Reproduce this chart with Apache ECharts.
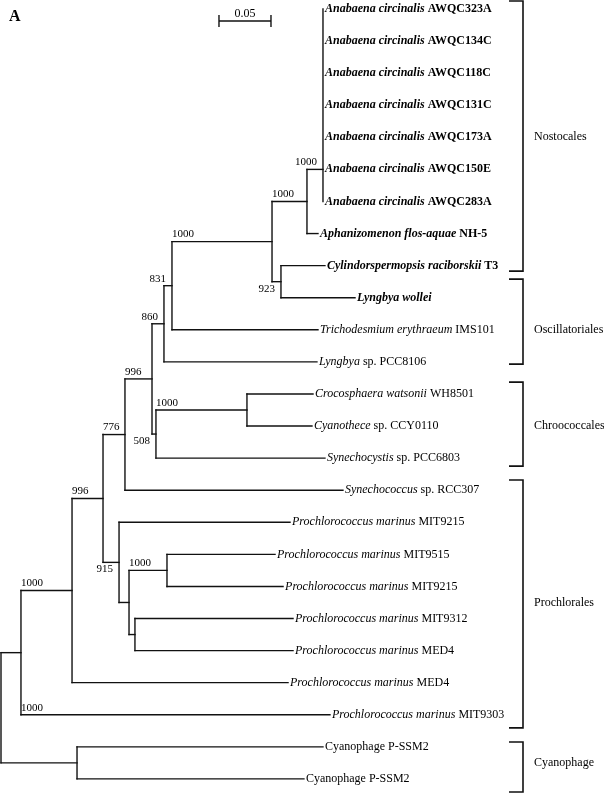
<!DOCTYPE html>
<html><head><meta charset="utf-8">
<script src="https://cdn.jsdelivr.net/npm/echarts@6/dist/echarts.min.js"></script>
<style>html,body{margin:0;padding:0;background:#fff}#main{width:604px;height:795px}</style>
</head><body><div id="main"></div>
<script>
// ---- leaves (top to bottom) ----
const leafTaxon = ['Anabaena circinalis','Anabaena circinalis','Anabaena circinalis','Anabaena circinalis','Anabaena circinalis','Anabaena circinalis','Anabaena circinalis',
  'Aphanizomenon flos-aquae','Cylindorspermopsis raciborskii','Lyngbya wollei','Trichodesmium erythraeum','Lyngbya','Crocosphaera watsonii','Cyanothece','Synechocystis','Synechococcus',
  'Prochlorococcus marinus','Prochlorococcus marinus','Prochlorococcus marinus','Prochlorococcus marinus','Prochlorococcus marinus','Prochlorococcus marinus','Prochlorococcus marinus','',''];
const leafStrain = ['AWQC323A','AWQC134C','AWQC118C','AWQC131C','AWQC173A','AWQC150E','AWQC283A','NH-5','T3','','IMS101','sp. PCC8106','WH8501','sp. CCY0110','sp. PCC6803','sp. RCC307',
  'MIT9215','MIT9515','MIT9215','MIT9312','MED4','MED4','MIT9303','Cyanophage P-SSM2','Cyanophage P-SSM2'];
const leafBold = [1,1,1,1,1,1,1,1,1,1,0,0,0,0,0,0,0,0,0,0,0,0,0,0,0];
const leafDepth = [0.3096,0.3096,0.3096,0.3096,0.3096,0.3096,0.3096,0.3048,0.3115,0.3404,0.3048,0.3038,0.3000,0.2990,0.3115,0.3288,
  0.2779,0.2635,0.2712,0.2808,0.2808,0.2760,0.3163,0.3096,0.2913];

// ---- internal nodes ----
const nodeId = ['a','b','c','d','e','f','g','h','i','j','k','l','m','n','o','p','q','r','root'];
const nodeDepth = [0.3096,0.2942,0.2692,0.2606,0.1644,0.1567,0.2365,0.1490,0.1452,0.1192,0.1596,0.1288,0.1231,0.1135,0.0981,0.0683,0.0192,0.0731,0];
const nodeChildren = [
  ['L0','L1','L2','L3','L4','L5','L6'],['a','L7'],['L8','L9'],['b','c'],['d','L10'],['e','L11'],['L12','L13'],['g','L14'],
  ['f','h'],['i','L15'],['L17','L18'],['L19','L20'],['k','l'],['L16','m'],['j','n'],['o','L21'],['p','L22'],['L23','L24'],['q','r']];
const nodeJoinChild = [5,-1,-1,-1,-1,-1,-1,-1,-1,-1,-1,-1,-1,-1,-1,-1,-1,-1,-1];

// ---- bootstrap supports ----
const supportTarget = ['a','b','d','c','e','f','i','g','h','j','o','n','k','p','L22'];
const supportValue  = ['1000','1000','1000','923','831','860','996','1000','508','776','996','915','1000','1000','1000'];
const supportPlace  = ['aboveLeft','above','above','belowLeft','aboveLeft','aboveLeft','above','above','belowLeft','above','above','belowLeft','above','above','above'];

// ---- clade brackets ----
const groupName = ['Nostocales','Oscillatoriales','Chroococcales','Prochlorales','Cyanophage'];
const groupTop = [-0.25,8.42,11.63,14.68,22.85];
const groupBottom = [8.17,11.07,14.25,22.41,24.41];
const groupFirstLeaf = [0,9,12,15,23];
const groupLastLeaf = [8,11,14,22,24];

// ---- scale bar ----
const scaleBarStart = 0.2096;
const scaleBarLength = 0.05;
const scaleBarLabel = '0.05';
const panelLabel = 'A';

// ---- build tree geometry from the data ----
const nodeIndex = {}; nodeId.forEach((id, i) => nodeIndex[id] = i);
function isLeaf(id) { return /^L\d+$/.test(id); }
function depthOf(id) { return isLeaf(id) ? leafDepth[+id.slice(1)] : nodeDepth[nodeIndex[id]]; }
const yMemo = {};
function yOf(id) {
  if (isLeaf(id)) return +id.slice(1);
  if (yMemo[id] !== undefined) return yMemo[id];
  const k = nodeIndex[id];
  const ch = nodeChildren[k];
  let y;
  if (nodeJoinChild[k] >= 0) y = yOf(ch[nodeJoinChild[k]]);
  else y = (yOf(ch[0]) + yOf(ch[ch.length - 1])) / 2;
  yMemo[id] = y; return y;
}
const parentOf = {};
nodeId.forEach((id, k) => nodeChildren[k].forEach(c => parentOf[c] = id));

const segments = [];
nodeId.forEach((id, k) => {
  const x = nodeDepth[k];
  const ys = nodeChildren[k].map(yOf);
  segments.push([x, Math.min(...ys), x, Math.max(...ys)]);
  nodeChildren[k].forEach(c => {
    const cx = depthOf(c);
    if (cx > x + 1e-6) segments.push([x, yOf(c), cx, yOf(c)]);
  });
});

const leafData = leafDepth.map((d, i) => [d, i, i]);
const supportData = supportTarget.map((t, i) => [depthOf(t), yOf(t), depthOf(parentOf[t]), i]);

const SERIF = '"Liberation Serif","Times New Roman",serif';
const chart = echarts.init(document.getElementById('main'), null, {renderer: 'canvas'});
chart.setOption({
  animation: false,
  backgroundColor: '#fff',
  grid: {left: 0, right: 0, top: 0, bottom: 0},
  xAxis: {type: 'value', min: -0.000962, max: 0.57981, show: false},
  yAxis: {type: 'value', min: -0.2805, max: 24.5016, inverse: true, show: false},
  series: [
    { // tree branches
      type: 'custom', clip: false, silent: true,
      data: segments,
      encode: {x: [0, 2], y: [1, 3]},
      renderItem: (params, api) => {
        const p1 = api.coord([api.value(0), api.value(1)]);
        const p2 = api.coord([api.value(2), api.value(3)]);
        return {type: 'line', shape: {x1: p1[0], y1: p1[1], x2: p2[0], y2: p2[1]},
          style: {stroke: '#111', lineWidth: 1.4, lineCap: 'square'}};
      }
    },
    { // leaf labels
      type: 'custom', clip: false, silent: true,
      data: leafData,
      encode: {x: 0, y: 1},
      renderItem: (params, api) => {
        const i = api.value(2);
        const p = api.coord([api.value(0), api.value(1)]);
        const b = leafBold[i];
        let txt;
        if (leafTaxon[i] && leafStrain[i]) txt = '{i|' + leafTaxon[i] + '}{r| ' + leafStrain[i] + '}';
        else if (leafTaxon[i]) txt = '{i|' + leafTaxon[i] + '}';
        else txt = '{r|' + leafStrain[i] + '}';
        return {type: 'text', x: p[0] + 2, y: p[1],
          style: {text: txt, fill: '#000', align: 'left', verticalAlign: 'middle',
            rich: {
              i: {fontFamily: SERIF, fontSize: 12, fontStyle: 'italic', fontWeight: b ? 'bold' : 'normal', fill: '#000'},
              r: {fontFamily: SERIF, fontSize: 12, fontWeight: b ? 'bold' : 'normal', fill: '#000'}
            }}};
      }
    },
    { // bootstrap values
      type: 'custom', clip: false, silent: true,
      data: supportData,
      encode: {x: 0, y: 1},
      renderItem: (params, api) => {
        const i = api.value(3);
        const node = api.coord([api.value(0), api.value(1)]);
        const par = api.coord([api.value(2), api.value(1)]);
        const place = supportPlace[i];
        let x, y, align;
        if (place === 'above') { x = par[0]; y = node[1] - 7; align = 'left'; }
        else if (place === 'aboveLeft') { x = node[0] - 6; y = node[1] - 7; align = 'right'; }
        else { x = node[0] - 6; y = node[1] + 7; align = 'right'; }
        return {type: 'text', x: x, y: y,
          style: {text: supportValue[i], fill: '#000', align: align, verticalAlign: 'middle',
            font: '11px ' + SERIF}};
      }
    },
    { // clade brackets and names
      type: 'custom', clip: false, silent: true,
      data: groupName.map((n, i) => [0.5, groupTop[i], groupBottom[i], i]),
      encode: {y: [1, 2]},
      renderItem: (params, api) => {
        const i = api.value(3);
        const yt = api.coord([0, api.value(1)])[1];
        const yb = api.coord([0, api.value(2)])[1];
        const ym = api.coord([0, (groupFirstLeaf[i] + groupLastLeaf[i]) / 2])[1];
        const bx = 523, tx = 509;
        return {type: 'group', children: [
          {type: 'polyline', shape: {points: [[tx, yt], [bx, yt], [bx, yb], [tx, yb]]},
            style: {stroke: '#111', lineWidth: 1.6, fill: null}},
          {type: 'text', x: 534, y: ym, style: {text: groupName[i], fill: '#000', align: 'left', verticalAlign: 'middle', font: '12px ' + SERIF}}
        ]};
      }
    },
    { // scale bar
      type: 'custom', clip: false, silent: true,
      data: [[scaleBarStart, scaleBarStart + scaleBarLength, 0.374]],
      encode: {x: [0, 1], y: 2},
      renderItem: (params, api) => {
        const p1 = api.coord([api.value(0), api.value(2)]);
        const p2 = api.coord([api.value(1), api.value(2)]);
        return {type: 'group', children: [
          {type: 'line', shape: {x1: p1[0], y1: p1[1], x2: p2[0], y2: p2[1]}, style: {stroke: '#111', lineWidth: 1.4}},
          {type: 'line', shape: {x1: p1[0], y1: p1[1] - 6, x2: p1[0], y2: p1[1] + 6}, style: {stroke: '#111', lineWidth: 1.4}},
          {type: 'line', shape: {x1: p2[0], y1: p2[1] - 6, x2: p2[0], y2: p2[1] + 6}, style: {stroke: '#111', lineWidth: 1.4}},
          {type: 'text', x: (p1[0] + p2[0]) / 2, y: p1[1] - 7, style: {text: scaleBarLabel, fill: '#000', align: 'center', verticalAlign: 'middle', font: '12px ' + SERIF}}
        ]};
      }
    }
  ],
  graphic: [{type: 'text', left: 9, top: 9, style: {text: panelLabel, fill: '#000', font: 'bold 16px ' + SERIF}}]
});
</script></body></html>
